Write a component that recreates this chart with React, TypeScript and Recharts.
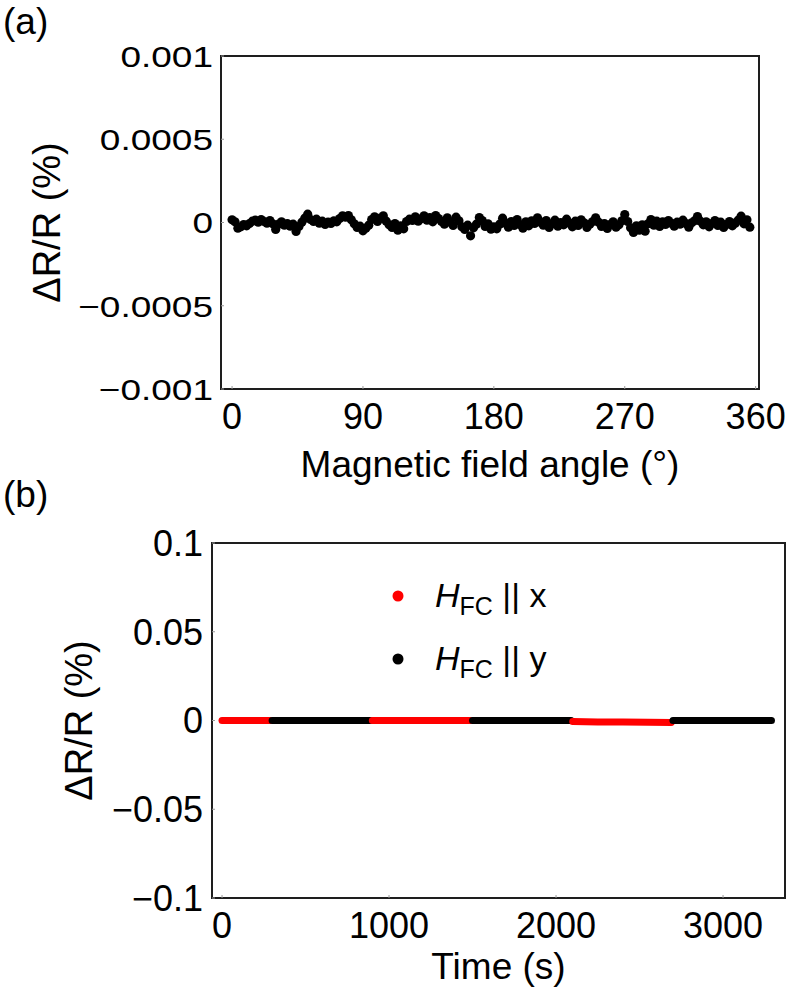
import React from 'react';
import {
    ScatterChart,
    Scatter,
    LineChart,
    Line,
    XAxis,
    YAxis,
    ReferenceArea,
    Legend,
    Label,
} from 'recharts';

const FONT = '"Liberation Sans", Arial, Helvetica, sans-serif';

// (a) rotation of the magnetic field
const ANGLES = [
    0, 2, 4, 6, 8, 10, 12, 14, 16, 18,
    20, 22, 24, 26, 28, 30, 32, 34, 36, 38,
    40, 42, 44, 46, 48, 50, 52, 54, 56, 58,
    60, 62, 64, 66, 68, 70, 72, 74, 76, 78,
    80, 82, 84, 86, 88, 90, 92, 94, 96, 98,
    100, 102, 104, 106, 108, 110, 112, 114, 116, 118,
    120, 122, 124, 126, 128, 130, 132, 134, 136, 138,
    140, 142, 144, 146, 148, 150, 152, 154, 156, 158,
    160, 162, 164, 166, 168, 170, 172, 174, 176, 178,
    180, 182, 184, 186, 188, 190, 192, 194, 196, 198,
    200, 202, 204, 206, 208, 210, 212, 214, 216, 218,
    220, 222, 224, 226, 228, 230, 232, 234, 236, 238,
    240, 242, 244, 246, 248, 250, 252, 254, 256, 258,
    260, 262, 264, 266, 268, 270, 272, 274, 276, 278,
    280, 282, 284, 286, 288, 290, 292, 294, 296, 298,
    300, 302, 304, 306, 308, 310, 312, 314, 316, 318,
    320, 322, 324, 326, 328, 330, 332, 334, 336, 338,
    340, 342, 344, 346, 348, 350, 352, 354, 356,
];

const DR_ANGLE = [
    1.6e-5, 0.4e-5, -3.4e-5, -2.6e-5, -1.2e-5, -2.0e-5, -0.6e-5, 0.8e-5, 1.4e-5, 0.2e-5,
    1.8e-5, 0.6e-5, -0.4e-5, 1.2e-5, -0.8e-5, -4.2e-5, -1.0e-5, 0.4e-5, -1.6e-5, -0.6e-5,
    -2.2e-5, -1.0e-5, -5.4e-5, -2.4e-5, 0.2e-5, 2.6e-5, 5.0e-5, 1.8e-5, 0.6e-5, 2.0e-5,
    -0.4e-5, 0.8e-5, -1.2e-5, 0.2e-5, -0.6e-5, 1.0e-5, 0.4e-5, 2.4e-5, 4.0e-5, 3.2e-5,
    4.2e-5, 1.6e-5, -0.8e-5, -3.0e-5, -2.2e-5, -5.0e-5, -3.4e-5, -1.6e-5, 1.8e-5, 3.4e-5,
    0.6e-5, 2.6e-5, 4.0e-5, 0.8e-5, -1.4e-5, -3.0e-5, -0.6e-5, -4.6e-5, -2.0e-5, -3.8e-5,
    0.6e-5, 2.0e-5, 1.2e-5, 3.4e-5, 0.8e-5, 2.2e-5, 4.0e-5, 1.4e-5, 3.0e-5, 0.4e-5,
    4.2e-5, 2.4e-5, 0.6e-5, -1.0e-5, 2.8e-5, 0.2e-5, -1.8e-5, 3.2e-5, 1.0e-5, -2.6e-5,
    -4.2e-5, -1.6e-5, -8.0e-5, -3.2e-5, -1.0e-5, 3.0e-5, 1.2e-5, -2.4e-5, -0.8e-5, -4.0e-5,
    -2.6e-5, -3.8e-5, -1.0e-5, 2.6e-5, -0.4e-5, -2.8e-5, 0.6e-5, -1.8e-5, 1.8e-5, -1.2e-5,
    -3.4e-5, 0.4e-5, -2.0e-5, 1.0e-5, -0.6e-5, 2.8e-5, 0.2e-5, -1.6e-5, 1.2e-5, -3.0e-5,
    -0.8e-5, 1.4e-5, -2.2e-5, 0, -1.4e-5, 2.0e-5, -0.4e-5, -2.6e-5, 0.8e-5, -1.8e-5,
    1.6e-5, -0.2e-5, -3.0e-5, -1.0e-5, 0.6e-5, 2.8e-5, 0.2e-5, -2.4e-5, -0.6e-5, -3.6e-5,
    -1.2e-5, 0.4e-5, -2.8e-5, -1.4e-5, 1.0e-5, 4.8e-5, 0.6e-5, -3.2e-5, -6.0e-5, -2.0e-5,
    -4.6e-5, -1.4e-5, -5.2e-5, -0.8e-5, 1.8e-5, -1.6e-5, 0.8e-5, -2.4e-5, 0.4e-5, -1.2e-5,
    1.2e-5, -0.4e-5, -2.2e-5, 0.2e-5, -1.0e-5, 1.4e-5, -0.6e-5, -2.8e-5, -0.2e-5, 1.0e-5,
    3.6e-5, 0.8e-5, -1.4e-5, 0.4e-5, -2.6e-5, -0.6e-5, 1.2e-5, -1.8e-5, 0.2e-5, -3.0e-5,
    -1.2e-5, 0.6e-5, -2.0e-5, -0.4e-5, 1.4e-5, 3.8e-5, -0.8e-5, 1.6e-5, -2.8e-5,
];

const X_TICKS_A = [0, 90, 180, 270, 360];
const Y_TICKS_A = [-0.001, -0.0005, 0, 0.0005, 0.001];
const Y_LABELS_A = ['\u22120.001', '\u22120.0005', '0', '0.0005', '0.001'];

// (b) time traces after field cooling along x / y
const X_TICKS_B = [0, 1000, 2000, 3000];
const Y_TICKS_B = [-0.1, -0.05, 0, 0.05, 0.1];
const Y_LABELS_B = ['\u22120.1', '\u22120.05', '0', '0.05', '0.1'];

const RUN1_T = [0, 145, 290];
const RUN1_V = [0, 0, 0];
const RUN2_T = [300, 600, 890];
const RUN2_V = [0, 0, 0];
const RUN3_T = [900, 1200, 1490];
const RUN3_V = [0, 0, 0];
const RUN4_T = [1500, 1800, 2090];
const RUN4_V = [0, 0, 0];
const RUN5_T = [2100, 2250, 2400, 2550, 2690];
const RUN5_V = [-0.0006, -0.0008, -0.0009, -0.001, -0.0011];
const RUN6_T = [2700, 3000, 3290];
const RUN6_V = [0, 0, 0];

const RED = '#ff0000';
const BLACK = '#000000';

const LEGEND = [
    { dir: 'x', color: RED },
    { dir: 'y', color: BLACK },
];

const toPoints = (t: number[], v: number[]) => t.map((time, i) => ({ t: time, v: v[i] }));

const RUNS = [
    { key: 'r1', color: RED, data: toPoints(RUN1_T, RUN1_V) },
    { key: 'r2', color: BLACK, data: toPoints(RUN2_T, RUN2_V) },
    { key: 'r3', color: RED, data: toPoints(RUN3_T, RUN3_V) },
    { key: 'r4', color: BLACK, data: toPoints(RUN4_T, RUN4_V) },
    { key: 'r5', color: RED, data: toPoints(RUN5_T, RUN5_V) },
    { key: 'r6', color: BLACK, data: toPoints(RUN6_T, RUN6_V) },
];

const angleData = ANGLES.map((a, i) => ({ angle: a, dr: DR_ANGLE[i] }));

const X_DOMAIN_A: [number, number] = [-7.6, 362.3];
const X_DOMAIN_B: [number, number] = [-60, 3371];

const FRAME = '#1e1e1e';

const SquashedTick = (props: any) => {
    const { x, y, payload } = props;
    const label = Y_LABELS_A[Y_TICKS_A.indexOf(payload.value)];
    return (
        <g transform={`translate(${x},${y}) scale(1,0.81)`}>
            <text textAnchor="end" dy="0.36em" fontSize={37} fontFamily={FONT} fill="#000">
                {label}
            </text>
        </g>
    );
};

const xTitle = (text: string, drop: number) => (props: any) => {
    const vb = props.viewBox;
    return (
        <text x={vb.x + vb.width / 2} y={vb.y + drop} textAnchor="middle" fontSize={37} fontFamily={FONT} fill="#000">
            {text}
        </text>
    );
};

const yTitle = (baseX: number) => (props: any) => {
    const vb = props.viewBox;
    const cy = vb.y + vb.height / 2;
    return (
        <text transform={`translate(${baseX},${cy}) rotate(-90)`} textAnchor="middle" fontSize={38} fontFamily={FONT} fill="#000">
            {'\u0394R/R (%)'}
        </text>
    );
};

const LegendBox = () => (
    <svg width={220} height={130}>
        {LEGEND.map((d, i) => (
            <g key={d.dir} transform={`translate(0,${i * 63})`}>
                <circle cx={18} cy={26} r={5.5} fill={d.color} />
                <text x={55} y={37} fontSize={34} fontFamily={FONT} fill="#000">
                    <tspan fontStyle="italic">H</tspan>
                    <tspan fontSize={25} dy={8}>FC</tspan>
                    <tspan dy={-8}>{` || ${d.dir}`}</tspan>
                </text>
            </g>
        ))}
    </svg>
);

const tickStyle = { fontSize: 36, fill: '#000', fontFamily: FONT };

export default function App() {
    return (
        <div style={{ position: 'absolute', left: 0, top: 0, width: 806, height: 988, background: '#fff' }}>
            <div style={{ position: 'absolute', left: 0, top: 0 }}>
                <ScatterChart width={806} height={490} margin={{ top: 56, right: 47, bottom: 0, left: 0 }}>
                    <XAxis
                        type="number"
                        dataKey="angle"
                        domain={X_DOMAIN_A}
                        ticks={X_TICKS_A}
                        allowDataOverflow
                        height={101}
                        axisLine={false}
                        tickSize={-3}
                        tickMargin={17}
                        tickLine={{ stroke: '#999' }}
                        tick={tickStyle}
                    >
                        <Label content={xTitle('Magnetic field angle (\u00b0)', 88)} />
                    </XAxis>
                    <YAxis
                        type="number"
                        dataKey="dr"
                        domain={[-0.001, 0.001]}
                        ticks={Y_TICKS_A}
                        allowDataOverflow
                        width={221}
                        axisLine={false}
                        tickSize={-3}
                        tickMargin={11}
                        tickLine={{ stroke: '#999' }}
                        tick={<SquashedTick />}
                    >
                        <Label content={yTitle(60)} />
                    </YAxis>
                    <ReferenceArea
                        x1={X_DOMAIN_A[0]}
                        x2={X_DOMAIN_A[1]}
                        y1={-0.001}
                        y2={0.001}
                        ifOverflow="visible"
                        fill="none"
                        stroke={FRAME}
                        strokeOpacity={1}
                        strokeWidth={2}
                    />
                    <Scatter
                        data={angleData}
                        fill="#000"
                        isAnimationActive={false}
                        shape={(p: any) => <circle cx={p.cx} cy={p.cy} r={4.6} fill="#000" />}
                    />
                </ScatterChart>
            </div>
            <div style={{ position: 'absolute', left: 0, top: 490 }}>
                <LineChart width={806} height={498} margin={{ top: 53, right: 21, bottom: 0, left: 0 }}>
                    <XAxis
                        type="number"
                        dataKey="t"
                        domain={X_DOMAIN_B}
                        ticks={X_TICKS_B}
                        allowDataOverflow
                        height={90}
                        axisLine={false}
                        tickSize={-3}
                        tickMargin={17}
                        tickLine={{ stroke: '#999' }}
                        tick={tickStyle}
                    >
                        <Label content={xTitle('Time (s)', 81)} />
                    </XAxis>
                    <YAxis
                        type="number"
                        dataKey="v"
                        domain={[-0.1, 0.1]}
                        ticks={Y_TICKS_B}
                        allowDataOverflow
                        width={212}
                        axisLine={false}
                        tickSize={-3}
                        tickMargin={12}
                        tickLine={{ stroke: '#999' }}
                        tick={tickStyle}
                        tickFormatter={(v: number) => Y_LABELS_B[Y_TICKS_B.indexOf(v)]}
                    >
                        <Label content={yTitle(92)} />
                    </YAxis>
                    <ReferenceArea
                        x1={X_DOMAIN_B[0]}
                        x2={X_DOMAIN_B[1]}
                        y1={-0.1}
                        y2={0.1}
                        ifOverflow="visible"
                        fill="none"
                        stroke={FRAME}
                        strokeOpacity={1}
                        strokeWidth={2}
                    />
                    {RUNS.map(r => (
                        <Line
                            key={r.key}
                            data={r.data}
                            dataKey="v"
                            stroke={r.color}
                            strokeWidth={7}
                            strokeLinecap="round"
                            dot={false}
                            isAnimationActive={false}
                            legendType="none"
                        />
                    ))}
                    <Legend
                        layout="horizontal"
                        verticalAlign="middle"
                        align="center"
                        wrapperStyle={{ position: 'absolute', left: 380, top: 80, width: 220 }}
                        content={() => <LegendBox />}
                    />
                </LineChart>
            </div>
            <svg width={806} height={988} style={{ position: 'absolute', left: 0, top: 0, pointerEvents: 'none' }}>
                <text x={3} y={34} fontSize={37} fontFamily={FONT} fill="#000">(a)</text>
                <text x={3} y={507} fontSize={37} fontFamily={FONT} fill="#000">(b)</text>
            </svg>
        </div>
    );
}
